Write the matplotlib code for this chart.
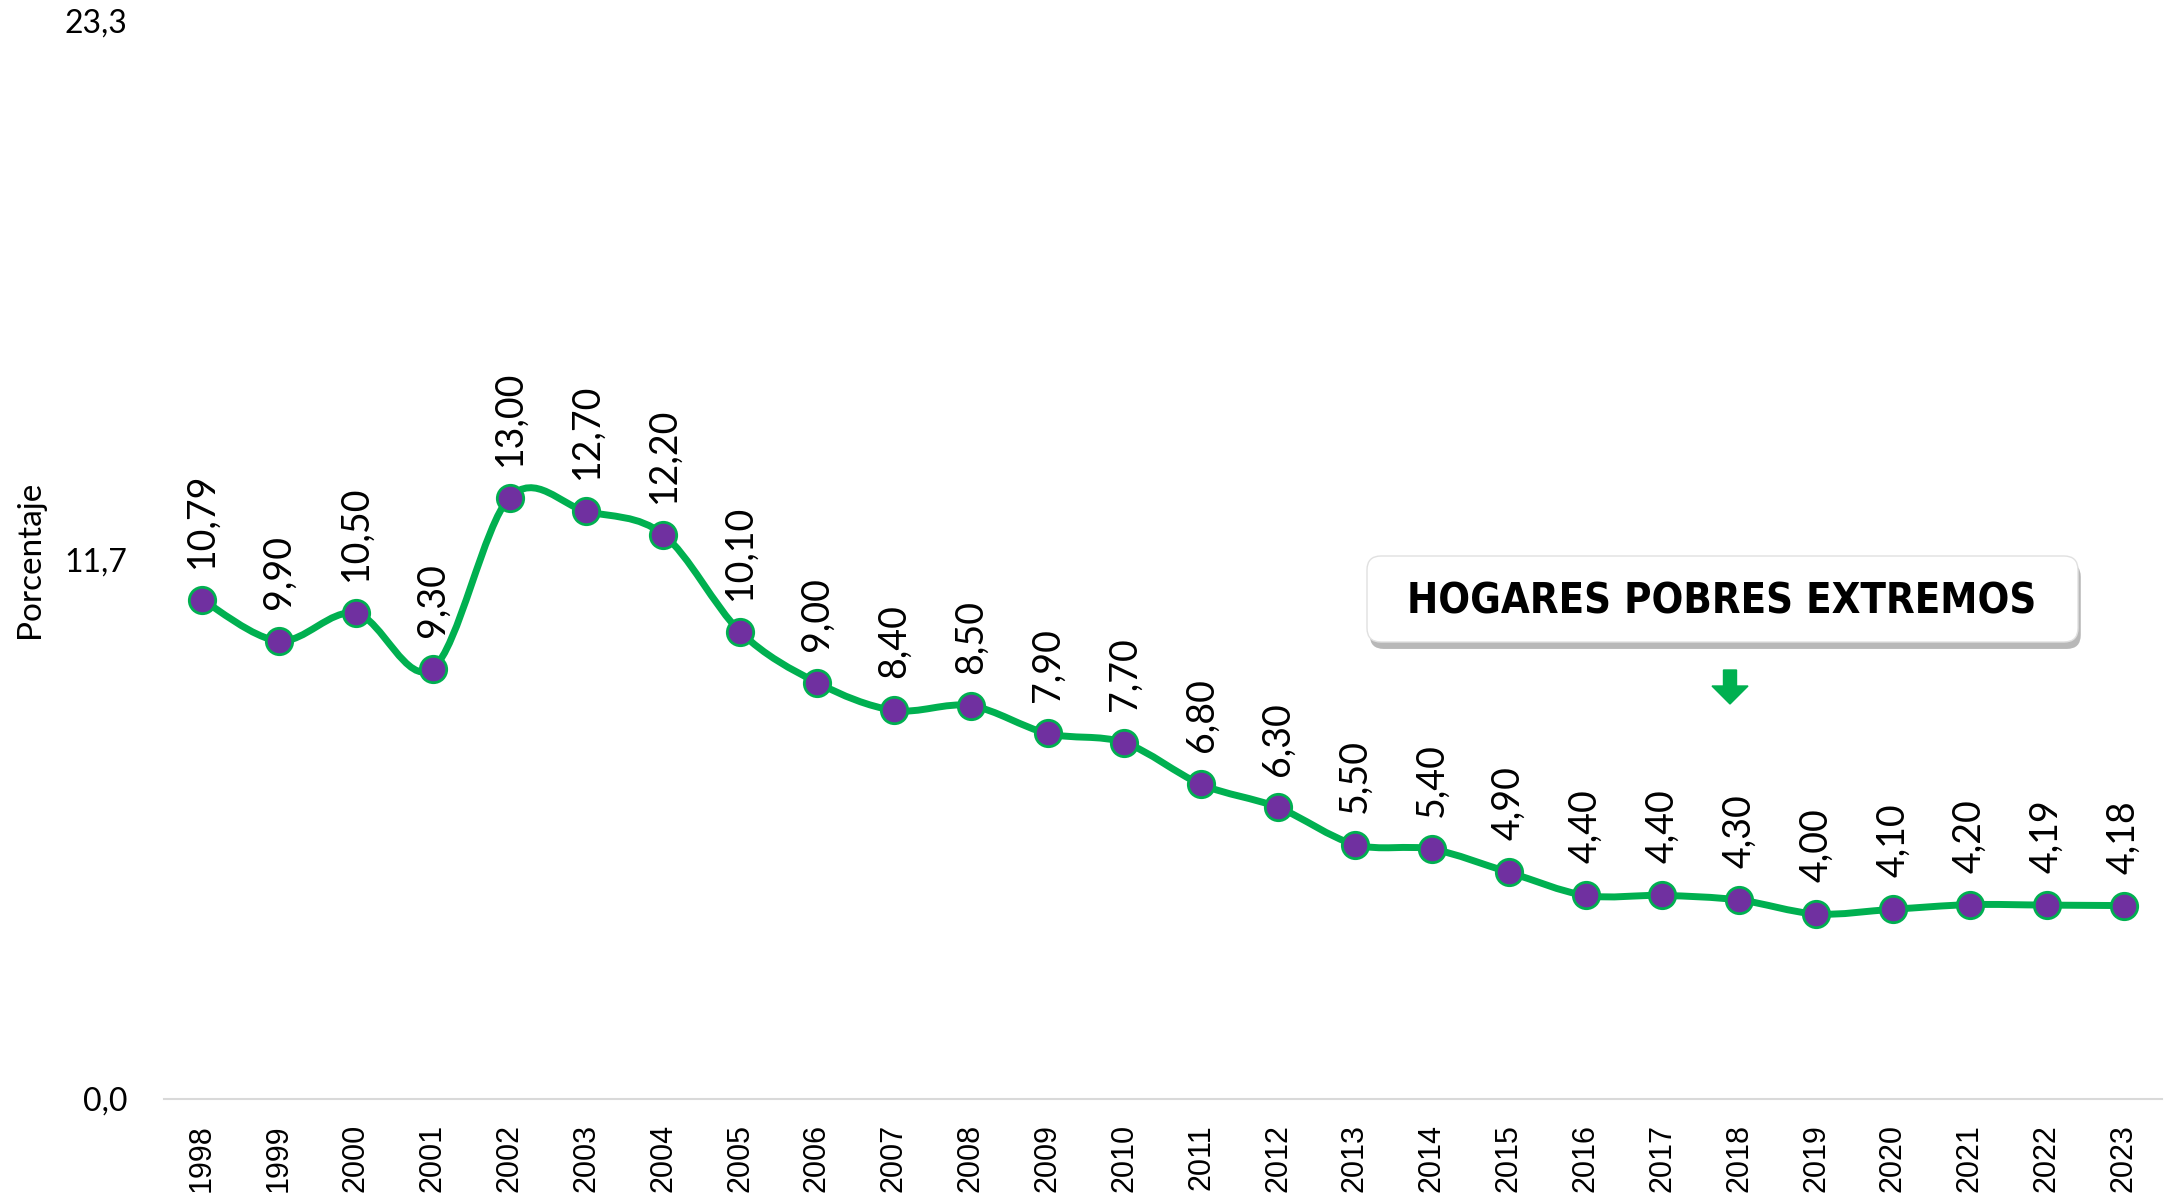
import matplotlib
matplotlib.use("Agg")
import matplotlib.pyplot as plt
from matplotlib.path import Path
from matplotlib.patches import PathPatch, FancyBboxPatch, FancyArrow
from matplotlib.transforms import IdentityTransform
from matplotlib import font_manager
import matplotlib.patheffects as pe
import numpy as np

years = list(range(1998, 2024))
values = [10.79, 9.90, 10.50, 9.30, 13.00, 12.70, 12.20, 10.10, 9.00, 8.40,
          8.50, 7.90, 7.70, 6.80, 6.30, 5.50, 5.40, 4.90, 4.40, 4.40,
          4.30, 4.00, 4.10, 4.20, 4.19, 4.18]
y_ticks = [0.0, 11.65, 23.3]
y_ticklabels = ["0,0", "11,7", "23,3"]
title = "HOGARES POBRES EXTREMOS"

green = "#00B050"
purple = "#7030A0"

# narrow bold font for the title if there is one
names = {f.name for f in font_manager.fontManager.ttflist}
title_font = dict(family="Liberation Sans", fontsize=29, fontweight="bold")
if "Liberation Sans Narrow" in names:
    title_font = dict(family="Liberation Sans Narrow", fontsize=37, fontweight="bold")
else:
    fp = font_manager.FontProperties(family="DejaVu Sans", weight="bold", stretch="condensed")
    if "Condensed" in font_manager.findfont(fp, fallback_to_default=False):
        title_font = dict(family="DejaVu Sans", fontsize=30, fontweight="bold",
                          fontstretch="condensed")

fig = plt.figure(figsize=(21.65, 12), dpi=100)
ax = fig.add_axes([0.0756, 0.0842, 0.9230, 0.8983])

x = np.arange(len(years))
y = np.array(values)

# smooth line like excel (catmull-rom as cubic bezier)
pts = np.column_stack([x, y])
verts = [pts[0]]
codes = [Path.MOVETO]
n = len(pts)
for i in range(n - 1):
    p0 = pts[i - 1] if i > 0 else pts[i]
    p1 = pts[i]
    p2 = pts[i + 1]
    p3 = pts[i + 2] if i + 2 < n else pts[i + 1]
    c1 = p1 + (p2 - p0) / 6
    c2 = p2 - (p3 - p1) / 6
    verts += [c1, c2, p2]
    codes += [Path.CURVE4] * 3
ax.add_patch(PathPatch(Path(verts, codes), fill=False, ec=green, lw=5,
                       clip_on=False, zorder=2))
ax.plot(x, y, ls="none", marker="o", ms=19, mfc=purple, mec=green, mew=2,
        clip_on=False, zorder=3)

for xi, v in zip(x, values):
    ax.annotate(f"{v:.2f}".replace(".", ","), (xi, v), xytext=(0, 23),
                textcoords="offset points", rotation=90, ha="center",
                va="bottom", fontsize=27, family="Lato", color="black")

ax.set_xlim(-0.5, len(years) - 0.5)
ax.set_ylim(0, 23.3)
ax.set_xticks(x)
ax.set_xticklabels([str(a) for a in years], rotation=90, fontsize=22,
                   family="Liberation Sans")
ax.set_yticks(y_ticks)
ax.set_yticklabels(y_ticklabels, fontsize=23, family="Lato")
ax.tick_params(axis="both", length=0)
ax.tick_params(axis="x", pad=18)
ax.tick_params(axis="y", pad=26)
for s in ["top", "right", "left"]:
    ax.spines[s].set_visible(False)
ax.spines["bottom"].set_color("#d9d9d9")
ax.spines["bottom"].set_linewidth(1.5)

fig.text(30 / 2165, 1 - 559 / 1200, "Porcentaje", rotation=90, ha="center",
         va="center", fontsize=24, family="Lato")

# title box with shadow (pixel coords)
box = FancyBboxPatch((1367, 558), 711, 86, boxstyle="round,pad=0,rounding_size=14",
                     fc="white", ec="#e0e0e0", lw=1, transform=IdentityTransform(),
                     zorder=5)
box.set_path_effects([pe.SimplePatchShadow(offset=(2, -5), shadow_rgbFace="#7f7f7f",
                                           alpha=0.55), pe.Normal()])
fig.patches.append(box)
fig.text(1722 / 2165, 1 - 602 / 1200, title, ha="center", va="center",
         zorder=6, **title_font)

arrow = FancyArrow(1730, 530, 0, -34, width=13, head_width=36, head_length=18,
                   length_includes_head=True, color=green,
                   transform=IdentityTransform())
fig.patches.append(arrow)

fig.savefig("out.png", dpi=100)
